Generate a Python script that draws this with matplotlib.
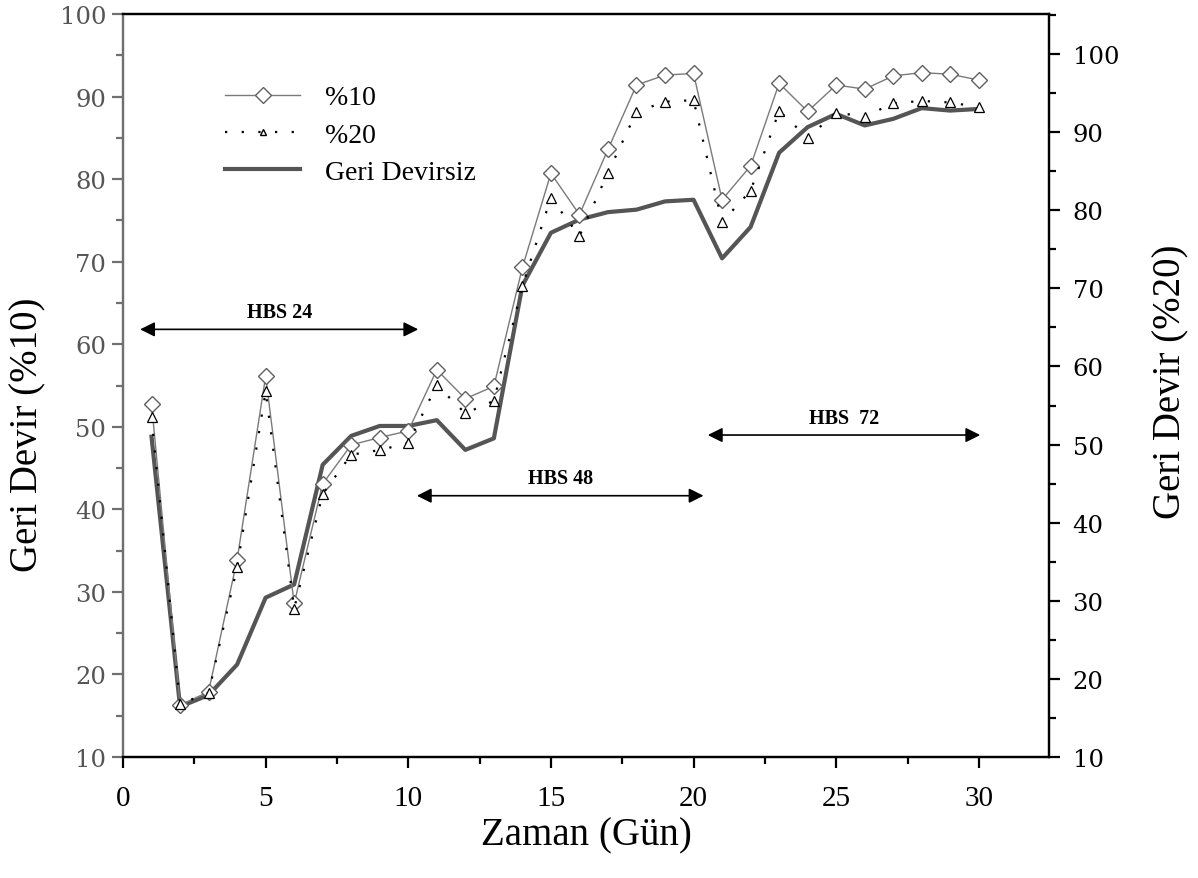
import matplotlib
matplotlib.use("Agg")
import matplotlib.pyplot as plt
from matplotlib.lines import Line2D
from matplotlib.ticker import MultipleLocator

plt.rcParams['font.family'] = ['Liberation Serif', 'DejaVu Serif']

days = list(range(1, 31))
pct10 = [52.8, 16.3, 17.9, 33.9, 56.1, 28.6, 43.1, 47.8, 48.7, 49.5,
         56.9, 53.4, 54.9, 69.3, 80.7, 75.7, 83.6, 91.4, 92.6, 92.8,
         77.5, 81.6, 91.6, 88.2, 91.4, 90.9, 92.5, 92.9, 92.7, 92.0]
pct20 = [53.5, 16.8, 18.2, 34.3, 56.8, 29.0, 43.7, 48.7, 49.3, 50.2,
         57.6, 54.0, 55.6, 70.3, 81.6, 76.7, 84.8, 92.6, 93.9, 94.1,
         78.5, 82.5, 92.7, 89.3, 92.5, 92.0, 93.7, 94.0, 93.8, 93.2]
geri_devirsiz = [48.8, 16.1, 17.5, 21.2, 29.3, 30.9, 45.4, 48.9, 50.1, 50.1,
                 50.8, 47.2, 48.6, 67.1, 73.5, 75.1, 76.0, 76.3, 77.3, 77.5,
                 70.4, 74.2, 83.2, 86.3, 87.9, 86.5, 87.3, 88.6, 88.3, 88.5]

series_labels = ['%10', '%20', 'Geri Devirsiz']
hbs_labels = ['HBS 24', 'HBS 48', 'HBS  72']
hbs_ranges = [(0.6, 10.35), (10.3, 20.35), (20.5, 30.05)]
hbs_levels = [61.8, 41.65, 49.0]

fig = plt.figure(figsize=(11.98, 8.79), dpi=100)
ax = fig.add_axes([123/1198, 1-758/879, (1049-123)/1198, (758-15)/879])
ax2 = ax.twinx()

gray_axis = '#707070'

# Geri Devirsiz (left axis)
ax.plot(days, geri_devirsiz, color='#555555', lw=3.0, zorder=3)
# %10 (left axis)
ax.plot(days, pct10, color='#7a7a7a', lw=1.0, marker='D', markersize=8.5,
        markerfacecolor='white', markeredgecolor='#606060', markeredgewidth=1.0, zorder=4)
# %20 (right axis)
ax2.plot(days, pct20, color='black', lw=1.6, linestyle=(0, (1, 6.5)),
         marker='^', markersize=6.5, markerfacecolor='white',
         markeredgecolor='black', markeredgewidth=0.9, zorder=4)

ax.set_xlim(0, 32.46)
ax.set_ylim(10, 100)
ax2.set_ylim(10, 105.13)

ax.xaxis.set_major_locator(MultipleLocator(5))
ax.xaxis.set_minor_locator(MultipleLocator(2.5))
ax.yaxis.set_major_locator(MultipleLocator(10))
ax.yaxis.set_minor_locator(MultipleLocator(5))
ax2.yaxis.set_major_locator(MultipleLocator(10))
ax2.yaxis.set_minor_locator(MultipleLocator(5))
ax2.xaxis.set_major_locator(MultipleLocator(5))
ax2.xaxis.set_minor_locator(MultipleLocator(2.5))

ax.set_xticks([0, 5, 10, 15, 20, 25, 30])
ax.set_yticks(list(range(10, 101, 10)))
ax2.set_yticks(list(range(10, 101, 10)))

ax.tick_params(axis='x', which='major', direction='out', length=8, width=1.6,
               labelsize=21, pad=12, top=False, bottom=True)
ax.tick_params(axis='x', which='minor', direction='out', length=5, width=1.6,
               top=False, bottom=True)
ax2.tick_params(axis='x', which='major', direction='in', length=8, width=1.6,
                top=True, bottom=False, labeltop=False, labelbottom=False)
ax2.tick_params(axis='x', which='minor', direction='in', length=5, width=1.6,
                top=True, bottom=False)
ax.tick_params(axis='y', which='major', direction='out', length=8, width=1.6,
               labelsize=17.5, color=gray_axis, labelcolor='#555555', pad=4)
ax.tick_params(axis='y', which='minor', direction='out', length=5, width=1.6,
               color=gray_axis)
ax2.tick_params(axis='y', which='major', direction='out', length=8, width=1.6,
                labelsize=17.5, pad=9)
ax2.tick_params(axis='y', which='minor', direction='out', length=5, width=1.6)

for lbl in ax.get_yticklabels() + ax2.get_yticklabels():
    lbl.set_fontfamily('DejaVu Serif')

for sp in ax.spines.values():
    sp.set_linewidth(1.6)
for sp in ax2.spines.values():
    sp.set_linewidth(1.6)
ax.spines['left'].set_color(gray_axis)
ax2.spines['left'].set_color(gray_axis)

ax.set_xlabel('Zaman (Gün)', fontsize=28, labelpad=4)
ax.set_ylabel('Geri Devir (%10)', fontsize=28)
ax.yaxis.set_label_coords((46 - 123) / 926, 1 - (435 - 15) / 743)
ax2.set_ylabel('Geri Devir (%20)', fontsize=28)
ax2.yaxis.set_label_coords((1152 - 123) / 926, 1 - (382 - 15) / 743)

# HBS annotations
for lab, (x0, x1), lev in zip(hbs_labels, hbs_ranges, hbs_levels):
    ax.annotate('', xy=(x0, lev), xytext=(x1, lev),
                arrowprops=dict(arrowstyle='<|-|>', color='black', lw=1.2,
                                mutation_scale=22, shrinkA=0, shrinkB=0),
                zorder=5)
    ax.text((x0 + x1) / 2, lev + 0.9, lab, ha='center', va='bottom',
            fontsize=14.5, fontweight='bold', zorder=5)

# Legend
handles = [
    Line2D([], [], color='#7a7a7a', lw=1.0, marker='D', markersize=8.5,
           markerfacecolor='white', markeredgecolor='#606060'),
    Line2D([], [], color='black', lw=1.6, linestyle=(0, (1, 6.5)), marker='^',
           markersize=5, markerfacecolor='white', markeredgecolor='black'),
    Line2D([], [], color='#555555', lw=3.0),
]
leg = ax.legend(handles, series_labels, loc='upper left',
                bbox_to_anchor=(225/1198, 1-86/879), bbox_transform=fig.transFigure,
                frameon=False, fontsize=20, handlelength=2.7, handletextpad=0.9,
                labelspacing=0.42, borderpad=0, borderaxespad=0)
leg.set_zorder(6)

fig.savefig('out.png', dpi=100)
